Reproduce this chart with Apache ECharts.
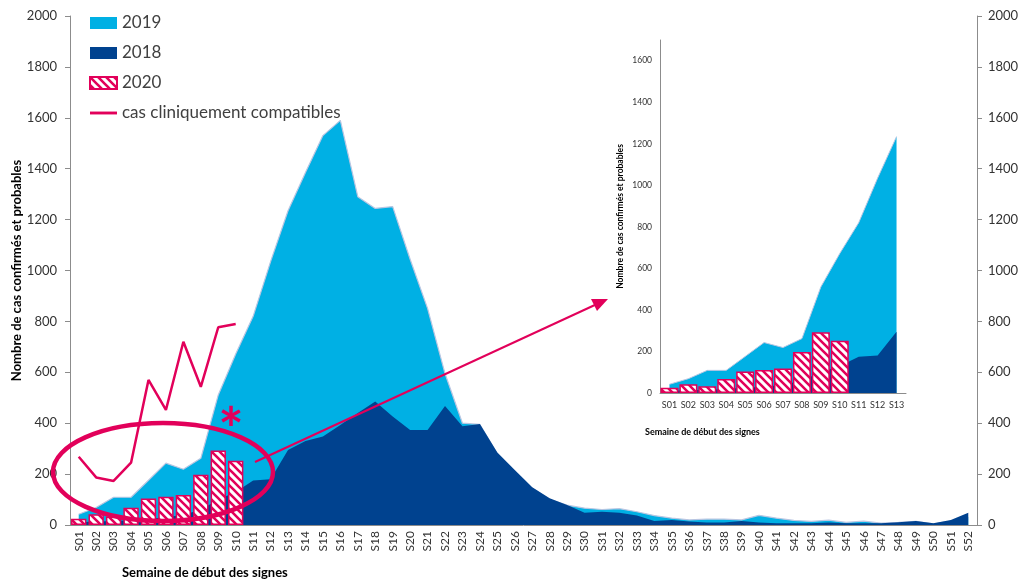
<!DOCTYPE html>
<html>
<head>
<meta charset="utf-8">
<script src="https://cdn.jsdelivr.net/npm/echarts@6/dist/echarts.min.js"></script>
<style>
  html, body { margin: 0; padding: 0; background: #fff; }
  #main { width: 1021px; height: 580px; }
</style>
</head>
<body>
<div id="main"></div>
<script>
// semaines
const weeks = ['S01','S02','S03','S04','S05','S06','S07','S08','S09','S10',
  'S11','S12','S13','S14','S15','S16','S17','S18','S19','S20',
  'S21','S22','S23','S24','S25','S26','S27','S28','S29','S30',
  'S31','S32','S33','S34','S35','S36','S37','S38','S39','S40',
  'S41','S42','S43','S44','S45','S46','S47','S48','S49','S50',
  'S51','S52'];

const cases2019 = [42,69,109,109,176,243,219,262,511,672,
  820,1035,1235,1385,1530,1590,1290,1244,1251,1044,
  851,595,400,395,280,210,145,100,78,66,
  61,64,52,37,27,20,23,23,20,38,
  27,18,14,19,10,15,7,10,14,5,
  15,30];

const cases2018 = [10,15,15,20,25,30,40,60,100,130,
  175,180,295,330,348,393,440,485,426,373,
  373,468,388,397,285,216,148,105,79,48,
  52,48,37,16,20,14,10,10,16,10,
  7,7,7,10,7,7,7,11,16,7,
  20,48];

const cases2020 = [25,42,33,68,104,111,118,197,293,252];

const clinical = [268,187,173,245,570,452,720,543,777,790];

const yTicks = { min: 0, max: 2000, interval: 200 };
const insetWeeks = 13;

const PINK = '#E2005A';
const LIGHT = '#00B0E4';
const DARK = '#00428F';
const FONT = 'Lato, "Open Sans", sans-serif';

// motif hachuré pour 2020
function hatch() {
  const c = document.createElement('canvas');
  c.width = 8; c.height = 8;
  const ctx = c.getContext('2d');
  ctx.fillStyle = '#fff';
  ctx.fillRect(0, 0, 8, 8);
  ctx.strokeStyle = PINK;
  ctx.lineWidth = 2.6;
  ctx.beginPath();
  ctx.moveTo(-2, -2); ctx.lineTo(10, 10);
  ctx.moveTo(-2, 6); ctx.lineTo(2, 10);
  ctx.moveTo(6, -2); ctx.lineTo(10, 2);
  ctx.stroke();
  return { image: c, repeat: 'repeat' };
}
const pattern = hatch();

const plain = v => String(v);

const chart = echarts.init(document.getElementById('main'));

const axisLineStyle = { show: true, lineStyle: { color: '#8c8c8c', width: 1 } };

const option = {
  animation: false,
  textStyle: { fontFamily: FONT },
  legend: {
    orient: 'vertical',
    left: 89, top: 14, padding: 0,
    itemWidth: 27, itemHeight: 12, itemGap: 12,
    textStyle: { fontSize: 17, color: '#404040', fontFamily: FONT, lineHeight: 18 },
    data: [
      { name: '2019', icon: 'rect' },
      { name: '2018', icon: 'rect' },
      { name: '2020', icon: 'rect' },
      { name: 'cas cliniquement compatibles', icon: 'path://M0,0 L28,0 L28,3 L0,3 Z' }
    ]
  },
  grid: [
    { left: 70, right: 44, top: 16, bottom: 55, outerBoundsMode: 'none' },
    { left: 660, right: 115, top: 40, bottom: 187, outerBoundsMode: 'none' }
  ],
  xAxis: [
    {
      type: 'category', gridIndex: 0, data: weeks,
      axisLine: axisLineStyle, axisTick: { show: false },
      axisLabel: { rotate: 90, interval: 0, fontSize: 12, color: '#333', margin: 6, fontFamily: FONT }
    },
    {
      type: 'category', gridIndex: 1, data: weeks.slice(0, insetWeeks),
      axisLine: axisLineStyle, axisTick: { show: false },
      axisLabel: { interval: 0, fontSize: 9, color: '#333', margin: 8, fontFamily: FONT }
    }
  ],
  yAxis: [
    {
      type: 'value', gridIndex: 0, position: 'left',
      min: yTicks.min, max: yTicks.max, interval: yTicks.interval,
      axisLine: axisLineStyle,
      axisTick: { show: true, length: 5, lineStyle: { color: '#8c8c8c' } },
      splitLine: { show: false },
      axisLabel: { fontSize: 13, color: '#333', margin: 13, fontFamily: FONT, formatter: plain },
      name: 'Nombre de cas confirmés et probables',
      nameLocation: 'middle', nameGap: 47, nameMoveOverlap: false,
      nameTextStyle: { fontSize: 13, fontWeight: 'bold', color: '#000', fontFamily: FONT }
    },
    {
      type: 'value', gridIndex: 0, position: 'right',
      min: yTicks.min, max: yTicks.max, interval: yTicks.interval,
      axisLine: axisLineStyle,
      axisTick: { show: true, length: 5, lineStyle: { color: '#8c8c8c' } },
      splitLine: { show: false },
      axisLabel: { fontSize: 13, color: '#333', margin: 11, fontFamily: FONT, formatter: plain }
    },
    {
      type: 'value', gridIndex: 1, min: 0, max: 1700, interval: 200,
      axisLine: axisLineStyle, axisTick: { show: false },
      splitLine: { show: false },
      axisLabel: { fontSize: 8.5, color: '#333', margin: 8, showMaxLabel: false, fontFamily: FONT, formatter: plain },
      name: 'Nombre de cas confirmés et probables',
      nameLocation: 'middle', nameGap: 35, nameMoveOverlap: false,
      nameTextStyle: { fontSize: 8.5, fontWeight: 'bold', color: '#000', fontFamily: FONT }
    }
  ],
  series: [
    {
      name: '2019', type: 'line', xAxisIndex: 0, yAxisIndex: 0,
      data: cases2019, symbol: 'none', color: LIGHT,
      lineStyle: { color: '#b9c6e2', width: 1.2 },
      areaStyle: { color: LIGHT, opacity: 1 }, z: 1
    },
    {
      name: '2018', type: 'line', xAxisIndex: 0, yAxisIndex: 0,
      data: cases2018, symbol: 'none', color: DARK,
      lineStyle: { width: 0 },
      areaStyle: { color: DARK, opacity: 1 }, z: 2
    },
    {
      name: '2020', type: 'bar', xAxisIndex: 0, yAxisIndex: 0,
      data: cases2020, barCategoryGap: '12%',
      itemStyle: { color: pattern, borderColor: PINK, borderWidth: 1.5 }, z: 3
    },
    {
      name: 'cas cliniquement compatibles', type: 'line', xAxisIndex: 0, yAxisIndex: 0,
      data: clinical, symbol: 'none', color: PINK,
      lineStyle: { color: PINK, width: 2.5 }, z: 4
    },
    {
      name: '2019', type: 'line', xAxisIndex: 1, yAxisIndex: 2,
      data: cases2019.slice(0, insetWeeks), symbol: 'none', color: LIGHT,
      lineStyle: { color: '#b9c6e2', width: 1 },
      areaStyle: { color: LIGHT, opacity: 1 }, z: 1
    },
    {
      name: '2018', type: 'line', xAxisIndex: 1, yAxisIndex: 2,
      data: cases2018.slice(0, insetWeeks), symbol: 'none', color: DARK,
      lineStyle: { width: 0 },
      areaStyle: { color: DARK, opacity: 1 }, z: 2
    },
    {
      name: '2020', type: 'bar', xAxisIndex: 1, yAxisIndex: 2,
      data: cases2020, barCategoryGap: '5%',
      itemStyle: { color: pattern, borderColor: PINK, borderWidth: 1.5 }, z: 3
    }
  ],
  graphic: [
    {
      type: 'text', x: 122, y: 573,
      style: { text: 'Semaine de début des signes', font: 'bold 13px ' + FONT, fill: '#000', verticalAlign: 'middle' }
    },
    {
      type: 'text', x: 645, y: 432,
      style: { text: 'Semaine de début des signes', font: 'bold 9px ' + FONT, fill: '#000', verticalAlign: 'middle' }
    },
    {
      type: 'ellipse', z: 100,
      shape: { cx: 163, cy: 472, rx: 110, ry: 49 },
      style: { fill: 'none', stroke: PINK, lineWidth: 4.5 }
    },
    {
      type: 'text', x: 231, y: 432, z: 100,
      style: { text: '*', font: 'bold 60px ' + FONT, fill: PINK, align: 'center', verticalAlign: 'middle' }
    },
    {
      type: 'line', z: 100,
      shape: { x1: 255, y1: 462, x2: 597, y2: 304 },
      style: { stroke: PINK, lineWidth: 2 }
    },
    {
      type: 'polygon', z: 100,
      shape: { points: [[608, 299], [597, 311], [591, 299]] },
      style: { fill: PINK }
    }
  ]
};

chart.setOption(option);
</script>
</body>
</html>
